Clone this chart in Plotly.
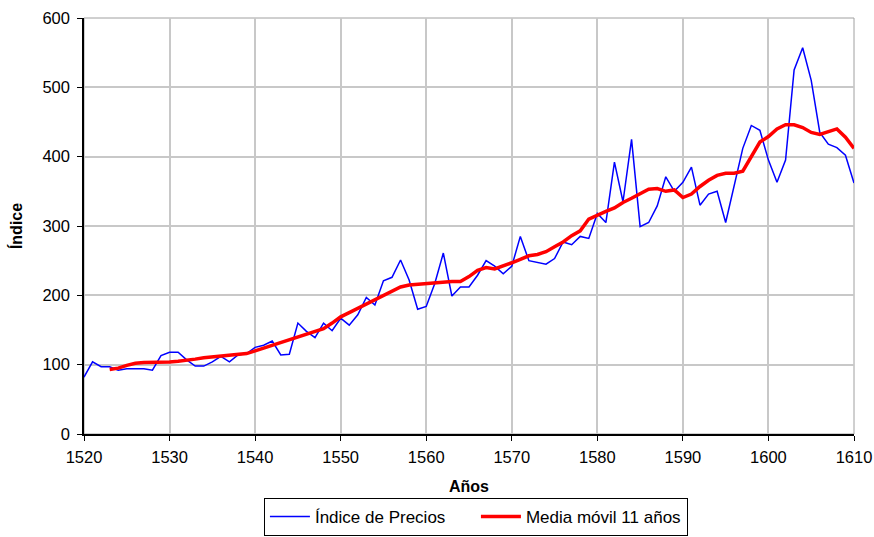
import plotly.graph_objects as go

years = list(range(1520, 1611))
precios = [82, 104, 97, 97, 92, 94, 94, 94, 92, 113,
           118, 118, 107, 98, 98, 104, 112, 104, 114, 116,
           125, 128, 134, 114, 115, 160, 148, 139, 160, 149,
           167, 157, 172, 197, 186, 221, 226, 251, 222, 180,
           184, 217, 261, 199, 212, 212, 229, 250, 242, 231,
           242, 285, 250, 248, 245, 253, 277, 273, 285, 282,
           318, 305, 392, 335, 425, 299, 305, 329, 371, 350,
           363, 385, 330, 346, 350, 305, 357, 412, 445, 438,
           395, 363, 395, 525, 557, 510, 435, 418, 413, 402,
           362]

media_years = list(range(1523, 1611))
media = [93, 95, 99, 102, 103, 103, 103, 104, 105, 106,
         108, 110, 111, 112, 113, 114, 116, 120, 124, 128,
         131, 135, 139, 143, 147, 152, 160, 169, 175, 181,
         188, 194, 199, 205, 212, 215, 216, 218, 219, 220,
         220, 220, 227, 236, 240, 238, 242, 247, 252, 257,
         259, 263, 270, 277, 286, 293, 310, 316, 321, 326,
         334, 340, 347, 353, 354, 350, 352, 341, 346, 357,
         366, 373, 376, 376, 379, 401, 421, 429, 440, 446,
         446, 442, 435, 432, 436, 440, 428, 412]

fig = go.Figure()
fig.add_trace(go.Scatter(x=years, y=precios, mode="lines", name="Índice de Precios",
                         line=dict(color="#0000ff", width=1.5)))
fig.add_trace(go.Scatter(x=media_years, y=media, mode="lines", name="Media móvil 11 años",
                         line=dict(color="#ff0000", width=3.5)))

fig.add_shape(type="rect", xref="paper", yref="paper", x0=0, y0=0, x1=1, y1=1,
              line=dict(color="#a0a0a0", width=1), layer="below")

font = dict(family="Liberation Sans, Arial, sans-serif", size=16.5, color="black")

fig.update_layout(
    width=874, height=537,
    margin=dict(l=84, r=20, t=18, b=103),
    paper_bgcolor="white", plot_bgcolor="white",
    font=font,
    showlegend=True,
    legend=dict(orientation="h", x=0.509, xanchor="center",
                yref="container", y=0.002, yanchor="bottom",
                bordercolor="black", borderwidth=1, font=dict(size=17),
                itemwidth=40, tracegroupgap=0, entrywidth=156),
    xaxis=dict(range=[1520, 1610], dtick=10, tick0=1520, showgrid=True,
               gridcolor="#c8c8c8", gridwidth=1.5, showline=True, linecolor="black",
               linewidth=1.5, ticks="outside", ticklen=5, tickcolor="black",
               ticklabelstandoff=2, automargin=False,
               title=dict(text="<b>Años</b>", font=dict(size=16), standoff=16),
               zeroline=False, tickfont=dict(size=16.5)),
    yaxis=dict(range=[0, 600], dtick=100, showgrid=True, gridcolor="#c8c8c8",
               gridwidth=1.5, showline=True, linecolor="black", linewidth=1.5,
               ticks="outside", ticklen=5, tickcolor="black",
               ticklabelstandoff=4, automargin=False,
               title=dict(text="<b>Índice</b>", font=dict(size=16), standoff=16),
               zeroline=False, tickfont=dict(size=16.5)),
)

fig.write_html("out.html", config={"displayModeBar": False},
               post_script="document.body.style.margin='0';document.body.style.overflow='hidden';")
